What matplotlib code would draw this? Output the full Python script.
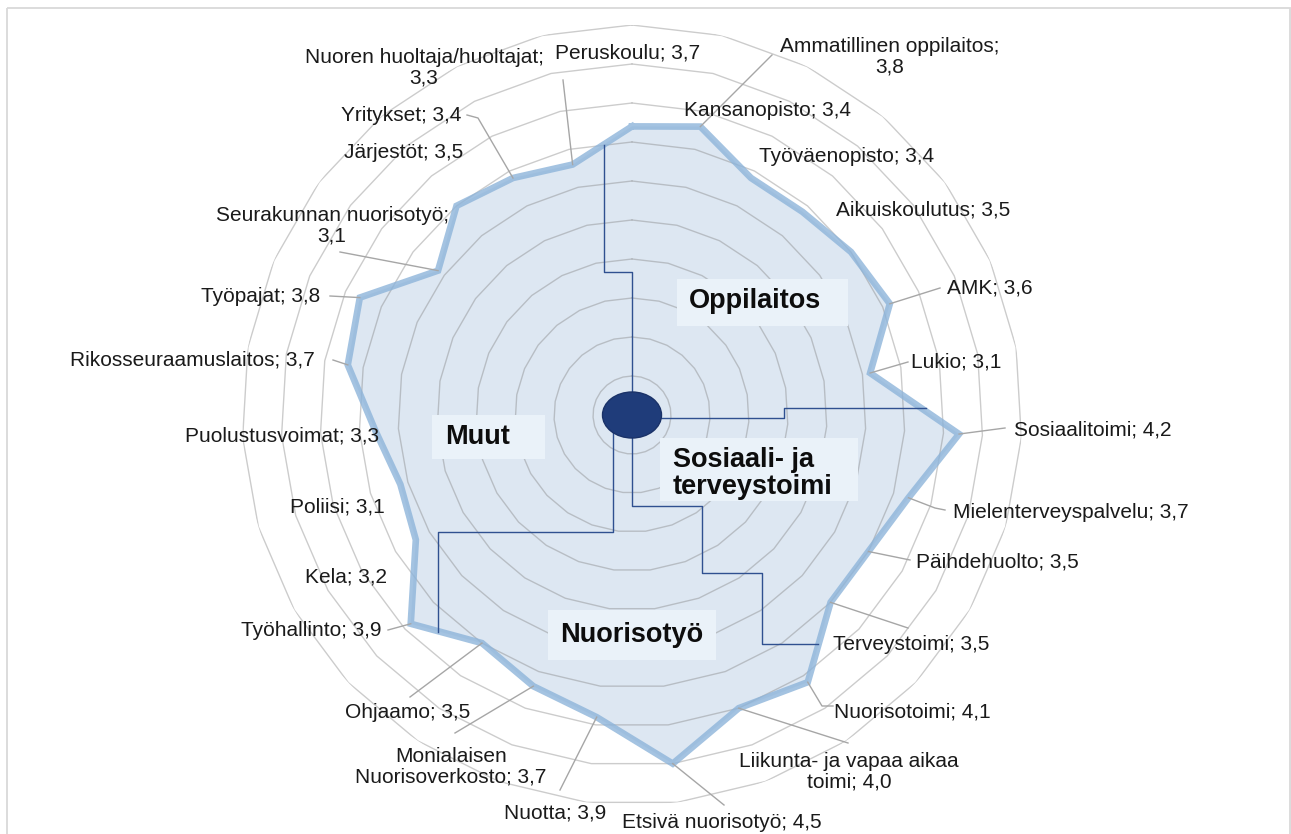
import numpy as np
import matplotlib
matplotlib.use("Agg")
import matplotlib.pyplot as plt
from matplotlib.patches import Ellipse, Rectangle

plt.rcParams['font.family'] = ['Liberation Sans', 'DejaVu Sans']

# ---------------- data ----------------
categories = ["Peruskoulu", "Ammatillinen oppilaitos", "Kansanopisto", "Työväenopisto",
              "Aikuiskoulutus", "AMK", "Lukio", "Sosiaalitoimi", "Mielenterveyspalvelu",
              "Päihdehuolto", "Terveystoimi", "Nuorisotoimi", "Liikunta- ja vapaa aikaa\ntoimi",
              "Etsivä nuorisotyö", "Nuotta", "Monialaisen\nNuorisoverkosto", "Ohjaamo",
              "Työhallinto", "Kela", "Poliisi", "Puolustusvoimat", "Rikosseuraamuslaitos",
              "Työpajat", "Seurakunnan nuorisotyö", "Järjestöt", "Yritykset",
              "Nuoren huoltaja/huoltajat"]
values = [3.7, 3.8, 3.4, 3.4, 3.5, 3.6, 3.1, 4.2, 3.7, 3.5, 3.5, 4.1, 4.0, 4.5, 3.9,
          3.7, 3.5, 3.9, 3.2, 3.1, 3.3, 3.7, 3.8, 3.1, 3.5, 3.4, 3.3]
# labels that break after the semicolon
wrap_after_semicolon = ["Ammatillinen oppilaitos", "Seurakunnan nuorisotyö",
                        "Nuoren huoltaja/huoltajat"]
group_names = ["Oppilaitos", "Sosiaali- ja\nterveystoimi", "Nuorisotyö", "Muut"]

# ---------------- layout (pixels) ----------------
W, H = 1291, 834
cx, cy, R = 632, 415, 390
rmax = 5.0
label_pos = [(628, 53), (890, 57), (768, 110), (847, 156), (923, 210), (990, 288),
             (956, 362), (1093, 430), (1071, 512), (997, 562), (911, 644), (912, 712),
             (849, 772), (722, 822), (555, 813), (451, 767), (408, 713), (311, 630),
             (346, 577), (337, 507), (282, 436), (192, 360), (261, 297), (332, 226),
             (404, 152), (401, 115), (424, 68)]
leader_start = [None, [(772, 55)], None, None, None, [(940, 288)], [(908, 362)],
                [(1005, 428)], [(945, 510), (935, 508)], [(910, 560)], [(908, 628)],
                [(833, 706), (822, 706)], [(848, 743)], [(724, 805)], [(560, 790)],
                [(455, 733)], [(410, 697)], [(388, 630)], None, None, None, [(333, 360)],
                [(330, 296)], [(340, 252)], None, [(467, 115), (478, 118)], [(563, 80)]]

fig = plt.figure(figsize=(W / 100, H / 100), dpi=100)
ax = fig.add_axes([(cx - R) / W, (H - cy - R) / H, 2 * R / W, 2 * R / H], projection='polar')
ax.set_theta_zero_location('N')
ax.set_theta_direction(-1)
ax.set_ylim(0, rmax)
ax.set_xticks([])
ax.set_yticks([])
ax.grid(False)
ax.spines['polar'].set_visible(False)
ax.patch.set_alpha(0)

n = len(categories)
theta = np.arange(n) * 2 * np.pi / n
tc = np.append(theta, theta[0])
vc = np.append(values, values[0])

ax.fill(tc, vc, color='#dde7f2', zorder=2, lw=0)
for lvl in np.arange(0.5, rmax + 0.01, 0.5):
    ax.plot(tc, [lvl] * (n + 1), color='#808080', alpha=0.4, lw=1.0, zorder=3)
ax.plot(tc, vc, color='#8db4da', alpha=0.8, lw=4.8, zorder=4, solid_joinstyle='miter')

# ---------------- overlay ----------------
ov = fig.add_axes([0, 0, 1, 1])
ov.set_xlim(0, W)
ov.set_ylim(H, 0)
ov.axis('off')
ov.patch.set_alpha(0)


def to_ov(t, r):
    d = ax.transData.transform((t, r))
    return ov.transData.inverted().transform(d)


# chart border
ov.add_patch(Rectangle((7, 8), W - 8, H + 10, fill=False, edgecolor='#d9d9d9', lw=1.3))

# leader lines and labels
for i, (cat, v) in enumerate(zip(categories, values)):
    vs = f"{v:.1f}".replace('.', ',')
    sep = "\n" if cat in wrap_after_semicolon else " "
    txt = f"{cat};{sep}{vs}"
    x, y = label_pos[i]
    ov.text(x, y, txt, ha='center', va='center', ma='center', fontsize=15,
            color='#1a1a1a', linespacing=1.12, zorder=6)
    if leader_start[i] is not None:
        px, py = to_ov(theta[i], v)
        pts = leader_start[i] + [(px, py)]
        xs, ys = zip(*pts)
        ov.plot(xs, ys, color='#a6a6a6', lw=1.0, zorder=5)

# group connectors
navy = '#2f5090'
c0 = to_ov(0, 0)
ccx, ccy = c0
conn = [
    [(ccx, ccy), (ccx, 272), (604, 272), (604, 145)],
    [(ccx, ccy + 3), (784, ccy + 3), (784, 408), (926, 408)],
    [(ccx, ccy), (ccx, 506), (702, 506), (702, 573), (762, 573), (762, 644), (818, 644)],
    [(613, ccy), (613, 532), (438, 532), (438, 632)],
]
for c in conn:
    xs, ys = zip(*c)
    ov.plot(xs, ys, color=navy, lw=1.0, zorder=5)

ov.add_patch(Ellipse((ccx, ccy), 59, 46, facecolor='#1f3c7a', edgecolor='#1a3268',
                     lw=1.0, zorder=7))

# group labels with boxes
boxes = [(677, 279, 171, 47), (660, 438, 198, 63), (548, 610, 168, 50), (432, 415, 113, 44)]
gtext = [(755, 301, 'center'), (673, 473, 'left'), (632, 635, 'center'), (478, 437, 'center')]
for (bx, by, bw, bh), (tx, ty, ha), g in zip(boxes, gtext, group_names):
    ov.add_patch(Rectangle((bx, by), bw, bh, facecolor='#eaf2f9', edgecolor='none', zorder=6))
    ov.text(tx, ty, g, ha=ha, va='center', fontsize=19.5, fontweight='bold',
            color='#0d0d0d', linespacing=1.05, zorder=7)

fig.savefig("out.png", dpi=100)
